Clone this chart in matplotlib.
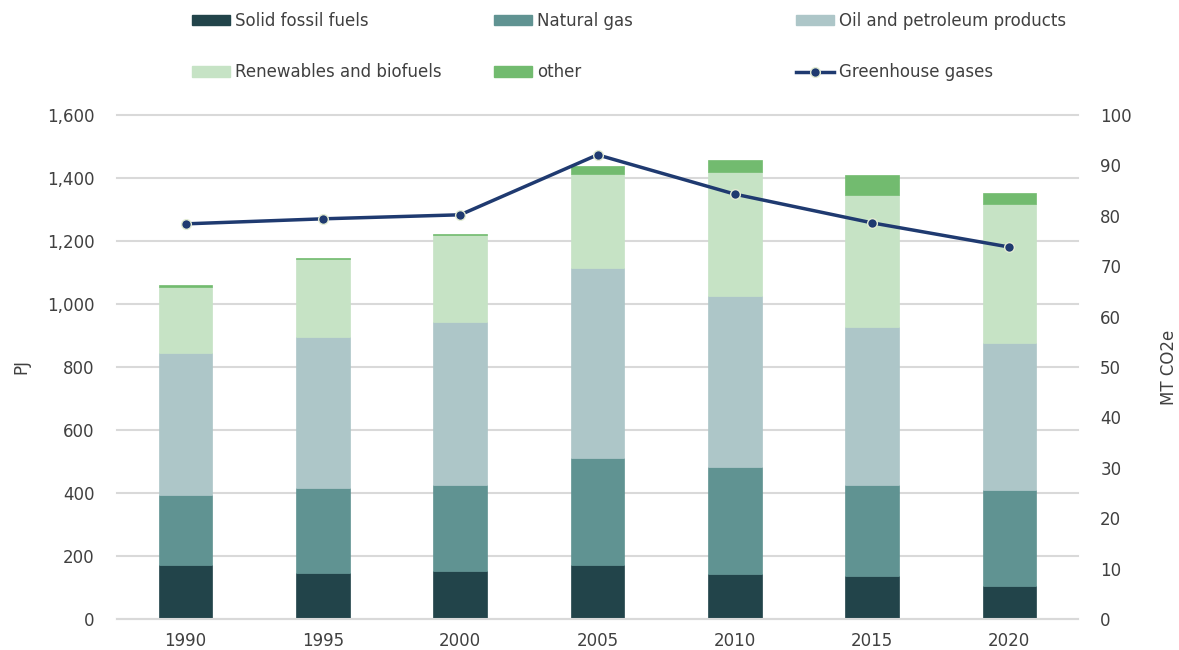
import matplotlib
matplotlib.use("Agg")
import matplotlib.pyplot as plt
import numpy as np
from matplotlib.patches import Patch
from matplotlib.lines import Line2D
from matplotlib.ticker import FuncFormatter, MultipleLocator

plt.rcParams['font.family'] = ['DejaVu Sans']

years = ["1990", "1995", "2000", "2005", "2010", "2015", "2020"]
solid = [171, 146, 152, 171, 143, 137, 105]
gas = [223, 270, 273, 340, 340, 288, 305]
oil = [451, 479, 518, 603, 543, 502, 466]
renew = [209, 248, 275, 299, 394, 418, 440]
other = [6, 2, 4, 24, 37, 65, 36]
ghg = [78.4, 79.4, 80.2, 92.1, 84.3, 78.6, 73.8]

series = [
    ("Solid fossil fuels", solid, "#22444A"),
    ("Natural gas", gas, "#609392"),
    ("Oil and petroleum products", oil, "#ADC6C8"),
    ("Renewables and biofuels", renew, "#C6E3C5"),
    ("other", other, "#72BB6F"),
]
line_color = "#1F3A70"
text_color = "#404040"
grid_color = "#D9D9D9"

fig = plt.figure(figsize=(11.79, 6.5), dpi=100)
ax = fig.add_axes([117/1179, 1-619/650, (1078-117)/1179, (619-115)/650])
x = np.arange(len(years))
bottom = np.zeros(len(years))
for name, vals, col in series:
    ax.bar(x, vals, bottom=bottom, width=0.39, color=col, edgecolor=col, linewidth=0.5, zorder=2)
    bottom += np.array(vals)

ax.set_xlim(-0.5, len(years) - 0.5)
ax.set_ylim(0, 1600)
ax.yaxis.set_major_locator(MultipleLocator(200))
ax.yaxis.set_major_formatter(FuncFormatter(lambda v, p: f"{int(v):,}"))
ax.set_xticks(x)
ax.set_xticklabels(years)
ax.grid(axis='y', color=grid_color, linewidth=1.5, zorder=0)
for gl in ax.get_ygridlines():
    gl.set_clip_on(False)
ax.set_axisbelow(True)
for s in ['top', 'left', 'right']:
    ax.spines[s].set_visible(False)
ax.spines['bottom'].set_color(grid_color)
ax.spines['bottom'].set_linewidth(1.5)
ax.tick_params(axis='both', length=0, labelsize=12, colors=text_color)
ax.tick_params(axis='y', pad=16)
ax.tick_params(axis='x', pad=9)
ax.set_ylabel("PJ", fontsize=12, color=text_color, labelpad=12)

ax2 = ax.twinx()
ax2.plot(x, ghg, color=line_color, linewidth=2.5, marker='o', markersize=7,
         markerfacecolor=line_color, markeredgecolor="#E2EBD3", markeredgewidth=1, zorder=5)
ax2.set_ylim(0, 100)
ax2.yaxis.set_major_locator(MultipleLocator(10))
for s in ['top', 'left', 'right', 'bottom']:
    ax2.spines[s].set_visible(False)
ax2.tick_params(axis='y', length=0, labelsize=12, colors=text_color, pad=16)
ax2.set_ylabel("MT CO2e", fontsize=12, color=text_color, labelpad=20)

handles = [Patch(facecolor=c, edgecolor=c) for _, _, c in series]
handles.append(Line2D([0], [0], color=line_color, linewidth=2.5, marker='o', markersize=7,
                      markerfacecolor=line_color, markeredgecolor="#E2EBD3"))
labels = [n for n, _, _ in series] + ["Greenhouse gases"]
cols = [[0, 3], [1, 4], [2, 5]]
xs = [192, 494, 796]
for cidx, xp in zip(cols, xs):
    fig.legend([handles[i] for i in cidx], [labels[i] for i in cidx],
               loc='upper left', bbox_to_anchor=(xp/1179, 1-12/650), frameon=False,
               fontsize=12, labelspacing=2.0, handlelength=2.3, handleheight=0.6,
               handletextpad=0.3, borderaxespad=0, borderpad=0, labelcolor=text_color)

fig.savefig("out.png", dpi=100)
